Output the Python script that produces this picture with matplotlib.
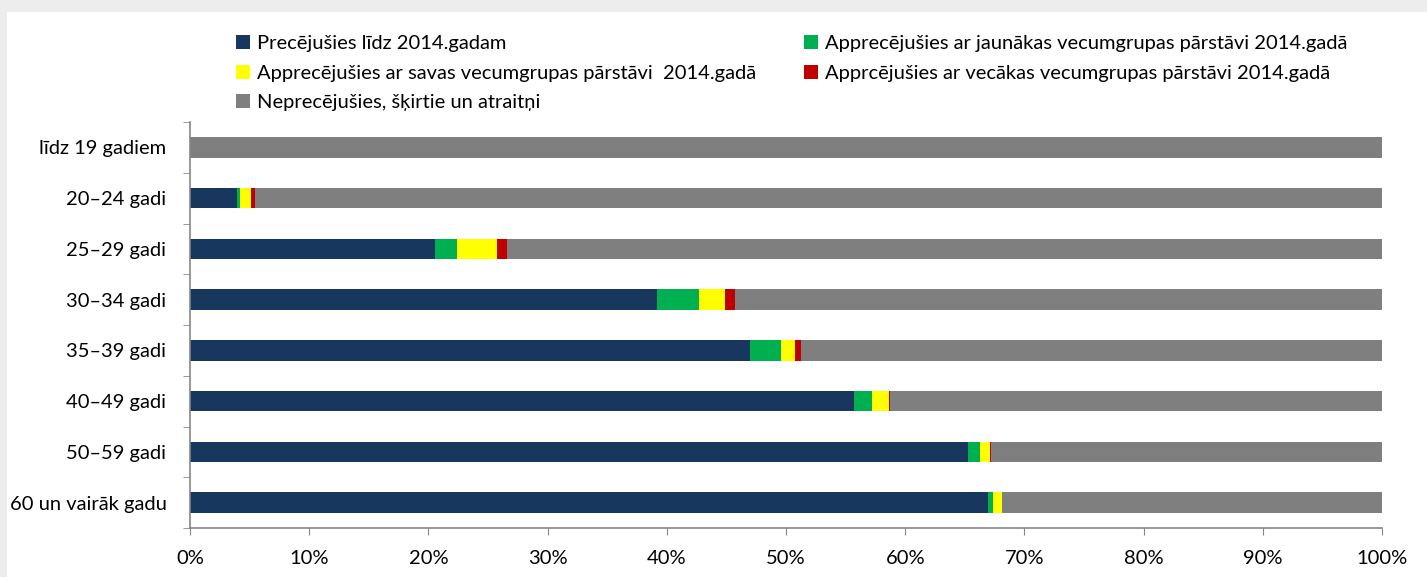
import matplotlib
import numpy as np
from matplotlib import pyplot as plt
from matplotlib.patches import Rectangle
from matplotlib.ticker import FixedLocator, PercentFormatter

matplotlib.use("Agg")
plt.rcParams["font.family"] = ["Lato", "DejaVu Sans"]

categories = [
    "līdz 19 gadiem",
    "20–24 gadi",
    "25–29 gadi",
    "30–34 gadi",
    "35–39 gadi",
    "40–49 gadi",
    "50–59 gadi",
    "60 un vairāk gadu",
]

married_before = [0.0, 3.97, 20.55, 39.2, 46.98, 55.7, 65.27, 66.95]
married_younger = [0.0, 0.2, 1.85, 3.47, 2.62, 1.54, 0.98, 0.42]
married_same = [0.0, 0.92, 3.35, 2.24, 1.12, 1.4, 0.84, 0.75]
married_older = [0.0, 0.39, 0.82, 0.81, 0.53, 0.12, 0.11, 0.03]

series_names = [
    "Precējušies līdz 2014.gadam",
    "Apprecējušies ar jaunākas vecumgrupas pārstāvi 2014.gadā",
    "Apprecējušies ar savas vecumgrupas pārstāvi  2014.gadā",
    "Apprcējušies ar vecākas vecumgrupas pārstāvi 2014.gadā",
    "Neprecējušies, šķirtie un atraitņi",
]
colors = ["#17375E", "#00B050", "#FFFF00", "#C00000", "#7F7F7F"]

values = np.array([married_before, married_younger, married_same, married_older])
unmarried = 100 - values.sum(axis=0)
values = np.vstack([values, unmarried])

fig = plt.figure(figsize=(14.27, 5.77), dpi=100, facecolor="#EDEDED")
# white panel with a grey margin top/left, like the screenshot
fig.patches.append(Rectangle((7 / 1427, 0), 1, 1 - 12 / 577, transform=fig.transFigure,
                             facecolor="white", edgecolor="none", zorder=-1))
ax = fig.add_axes([190 / 1427, 1 - 528 / 577, 1192 / 1427, 406 / 577])
ax.set_facecolor("none")
ax.set_zorder(1)

y = np.arange(len(categories))
left = np.zeros(len(categories))
bars = []
for name, vals, color in zip(series_names, values, colors):
    b = ax.barh(y, vals, left=left, height=0.4, color=color, label=name, linewidth=0)
    bars.append(b)
    left += vals

ax.set_xlim(0, 100)
ax.set_ylim(len(categories) - 0.5, -0.5)
ax.set_yticks(y)
ax.set_yticklabels(categories)
ax.yaxis.set_minor_locator(FixedLocator(np.arange(-0.5, len(categories), 1.0)))
ax.tick_params(axis="y", which="major", length=0, pad=17, labelsize=14.5)
ax.tick_params(axis="y", which="minor", length=5, color="#868686")
ax.set_xticks(np.arange(0, 101, 10))
ax.xaxis.set_major_formatter(PercentFormatter(decimals=0))
ax.tick_params(axis="x", length=5, color="#868686", pad=11, labelsize=14.5)

for side in ["top", "right"]:
    ax.spines[side].set_visible(False)
for side in ["left", "bottom"]:
    ax.spines[side].set_color("#868686")
    ax.spines[side].set_linewidth(1.2)

order = [0, 2, 4, 1, 3]
fig.legend([bars[i] for i in order], [series_names[i] for i in order],
           ncol=2, loc="upper left", bbox_to_anchor=(228 / 1427, 1 - 27 / 577),
           frameon=False, fontsize=14.5, handlelength=0.7, handleheight=0.7,
           handletextpad=0.35, columnspacing=2.35, labelspacing=0.62, borderaxespad=0)

fig.savefig("out.png", dpi=100, facecolor=fig.get_facecolor())
